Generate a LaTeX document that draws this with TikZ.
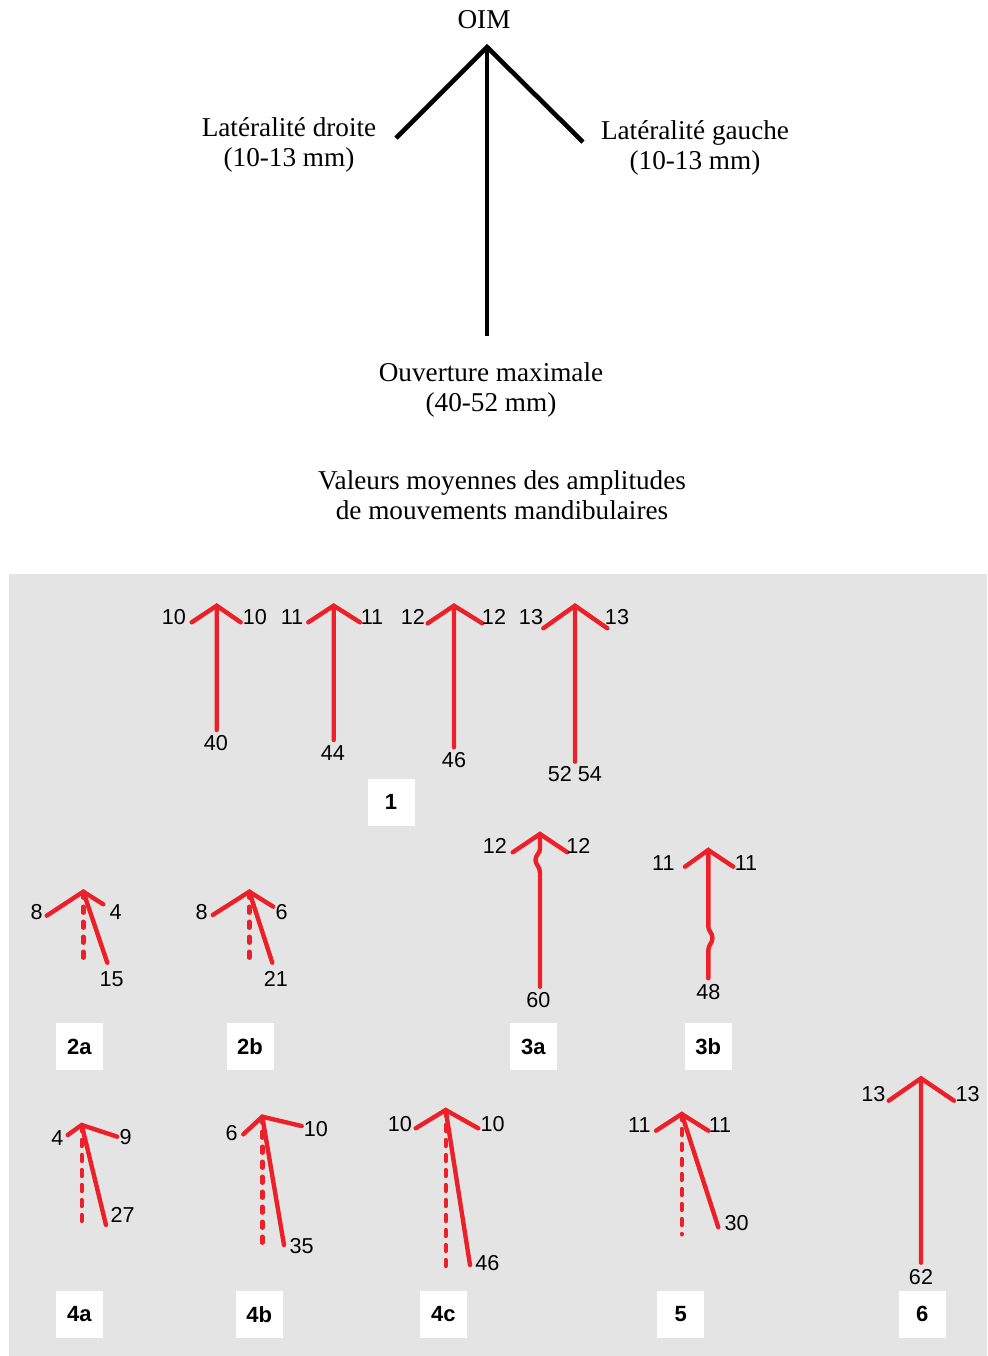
\documentclass[tikz,border=0pt]{standalone}
\usepackage{fontspec}
\usepackage{tkz-euclide}
\setmainfont{Liberation Serif}
\newfontfamily\helv{Liberation Sans}
\definecolor{mvtred}{RGB}{236,32,40}
\definecolor{fond}{RGB}{228,228,228}
\tikzset{
  axe/.style={line width=2.3pt},
  mvt/.style={draw=mvtred, line width=2.2pt, line cap=round},
  mvtdash/.style={mvt, dash pattern=on 3pt off 4.5pt},
  legende/.style={font=\fontsize{13.6}{15}\selectfont, align=center, inner sep=0pt},
  val/.style={font=\helv\fontsize{10.8}{12}\selectfont, inner sep=0pt},
  numbox/.style={fill=white, minimum width=23.5pt, minimum height=23.5pt, inner sep=0pt,
    font=\helv\bfseries\fontsize{11}{12}\selectfont}
}

\begin{document}
\begin{tikzpicture}[x=0.5pt, y=-0.5pt]
\useasboundingbox (0,0) rectangle (987,1356);
\fill[fond] (9,574) rectangle (987,1356);

% schema general
\tkzDefPoints{487/47/O, 396/138/Dr, 583/142/Ga, 487/336/Ov}
\draw[axe] (Dr) -- (O) -- (Ga);
\draw[line width=1.7pt] (O) -- (Ov);
\node[legende] (oim) at (484,20) {OIM};
\node[legende] (latd) at (289,145) {Latéralité droite\\(10-13 mm)};
\node[legende] (latg) at (695,148) {Latéralité gauche\\(10-13 mm)};
\node[legende] (ouv) at (491,390) {Ouverture maximale\\(40-52 mm)};
\node[legende] (titre) at (502,495) {Valeurs moyennes des amplitudes\\de mouvements mandibulaires};

% 1
\tkzDefPoints{216.7/605.7/S1a, 191.7/622.3/D1a, 240.7/622.3/G1a, 216.7/730/F1a}
\draw[mvt] (D1a) -- (S1a) -- (G1a) (S1a) -- (F1a);
\node[val] (d1a) at (174,617) {10};
\node[val] (g1a) at (255,617) {10};
\node[val] (f1a) at (216,743) {40};
\tkzDefPoints{333.7/605.7/S1b, 308.3/622.3/D1b, 360/622.3/G1b, 333.7/740/F1b}
\draw[mvt] (D1b) -- (S1b) -- (G1b) (S1b) -- (F1b);
\node[val] (d1b) at (292,617) {11};
\node[val] (g1b) at (372,617) {11};
\node[val] (f1b) at (333,753) {44};
\tkzDefPoints{454/605.7/S1c, 427.7/623.3/D1c, 482.3/623.3/G1c, 454/747.3/F1c}
\draw[mvt] (D1c) -- (S1c) -- (G1c) (S1c) -- (F1c);
\node[val] (d1c) at (413,617) {12};
\node[val] (g1c) at (494,617) {12};
\node[val] (f1c) at (454,760) {46};
\tkzDefPoints{575/605.7/S1d, 543.3/628.3/D1d, 607.3/628.3/G1d, 575/761.7/F1d}
\draw[mvt] (D1d) -- (S1d) -- (G1d) (S1d) -- (F1d);
\node[val] (d1d) at (531,617) {13};
\node[val] (g1d) at (617,617) {13};
\node[val] (f1d) at (575,774) {52 54};
\node[numbox] (n1) at (391,802) {1};

% 2a, 2b
\tkzDefPoints{83.3/891.7/S2a, 46.7/915.7/D2a, 103.3/904.3/G2a, 107.3/962.7/F2a, 83.3/966.7/P2a}
\draw[mvt] (D2a) -- (S2a) -- (G2a) (S2a) -- (F2a);
\draw[mvtdash] (S2a) -- (P2a);
\node[val] (d2a) at (36.7,911.7) {8};
\node[val] (g2a) at (115.7,911.7) {4};
\node[val] (f2a) at (111.7,979.3) {15};
\node[numbox] (n2a) at (79.3,1046.5) {2a};
\tkzDefPoints{249.3/891.7/S2b, 212.7/915/D2b, 273.3/906.7/G2b, 272.3/962.7/F2b, 249.3/966.7/P2b}
\draw[mvt] (D2b) -- (S2b) -- (G2b) (S2b) -- (F2b);
\draw[mvtdash] (S2b) -- (P2b);
\node[val] (d2b) at (201.7,911.7) {8};
\node[val] (g2b) at (281.7,911.7) {6};
\node[val] (f2b) at (276,979) {21};
\node[numbox] (n2b) at (250,1046.5) {2b};

% 3a, 3b
\tkzDefPoints{540/834/S3a, 512.7/852.3/D3a, 567.3/852.3/G3a, 540/986.7/F3a}
\draw[mvt] (D3a) -- (S3a) -- (G3a);
\draw[mvt] (S3a) -- (540,849) .. controls (540,853) and (535.5,855) .. (535.5,860)
  .. controls (535.5,865) and (540,866) .. (540,873) -- (F3a);
\node[val] (d3a) at (495,845.7) {12};
\node[val] (g3a) at (578.3,845.7) {12};
\node[val] (f3a) at (538.3,1000) {60};
\node[numbox] (n3a) at (533.3,1046.5) {3a};
\tkzDefPoints{708.3/850/S3b, 685/866.7/D3b, 733.3/866.7/G3b, 708.3/978.3/F3b}
\draw[mvt] (D3b) -- (S3b) -- (G3b);
\draw[mvt] (S3b) -- (708.3,926.7) .. controls (708.3,931) and (712.5,933) .. (712.5,938)
  .. controls (712.5,943) and (708.3,945) .. (708.3,950) -- (F3b);
\node[val] (d3b) at (663.3,862.7) {11};
\node[val] (g3b) at (746,862.7) {11};
\node[val] (f3b) at (708.3,991.7) {48};
\node[numbox] (n3b) at (708.3,1046.5) {3b};

% 4a, 4b, 4c
\tkzDefPoints{81.7/1125/S4a, 67.7/1135/D4a, 117.3/1136.7/G4a, 106/1225/F4a, 81.7/1226/P4a}
\draw[mvt] (D4a) -- (S4a) -- (G4a) (S4a) -- (F4a);
\draw[mvtdash] (S4a) -- (P4a);
\node[val] (d4a) at (57.3,1138.3) {4};
\node[val] (g4a) at (125.7,1136.7) {9};
\node[val] (f4a) at (122.7,1215) {27};
\node[numbox] (n4a) at (79.3,1314.3) {4a};
\tkzDefPoints{262.3/1116.7/S4b, 243.3/1134.3/D4b, 301.7/1126/G4b, 284/1245/F4b, 262.3/1246/P4b}
\draw[mvt] (D4b) -- (S4b) -- (G4b) (S4b) -- (F4b);
\draw[mvtdash] (S4b) -- (P4b);
\node[val] (d4b) at (231.7,1133.3) {6};
\node[val] (g4b) at (316,1129) {10};
\node[val] (f4b) at (301.7,1245.7) {35};
\node[numbox] (n4b) at (259.3,1314.3) {4b};
\tkzDefPoints{445.7/1110/S4c, 415.7/1128.3/D4c, 478.3/1128.3/G4c, 470/1265/F4c, 445.7/1268.3/P4c}
\draw[mvt] (D4c) -- (S4c) -- (G4c) (S4c) -- (F4c);
\draw[mvtdash] (S4c) -- (P4c);
\node[val] (d4c) at (400,1124.3) {10};
\node[val] (g4c) at (492.7,1124.3) {10};
\node[val] (f4c) at (487.3,1262.7) {46};
\node[numbox] (n4c) at (443.3,1314.3) {4c};

% 5, 6
\tkzDefPoints{681.7/1114/S5, 656/1130.7/D5, 708.3/1130.7/G5, 718.3/1227.3/F5, 681.7/1234.3/P5}
\draw[mvt] (D5) -- (S5) -- (G5) (S5) -- (F5);
\draw[mvtdash] (S5) -- (P5);
\node[val] (d5) at (639.3,1125) {11};
\node[val] (g5) at (720,1125) {11};
\node[val] (f5) at (736.7,1223.3) {30};
\node[numbox] (n5) at (680.7,1314.3) {5};
\tkzDefPoints{921/1078.3/S6, 888.7/1100.7/D6, 954/1100.7/G6, 921/1262.7/F6}
\draw[mvt] (D6) -- (S6) -- (G6) (S6) -- (F6);
\node[val] (d6) at (873.3,1094.3) {13};
\node[val] (g6) at (967.7,1094.3) {13};
\node[val] (f6) at (921,1276.7) {62};
\node[numbox] (n6) at (922.3,1314.3) {6};
\end{tikzpicture}
\end{document}
